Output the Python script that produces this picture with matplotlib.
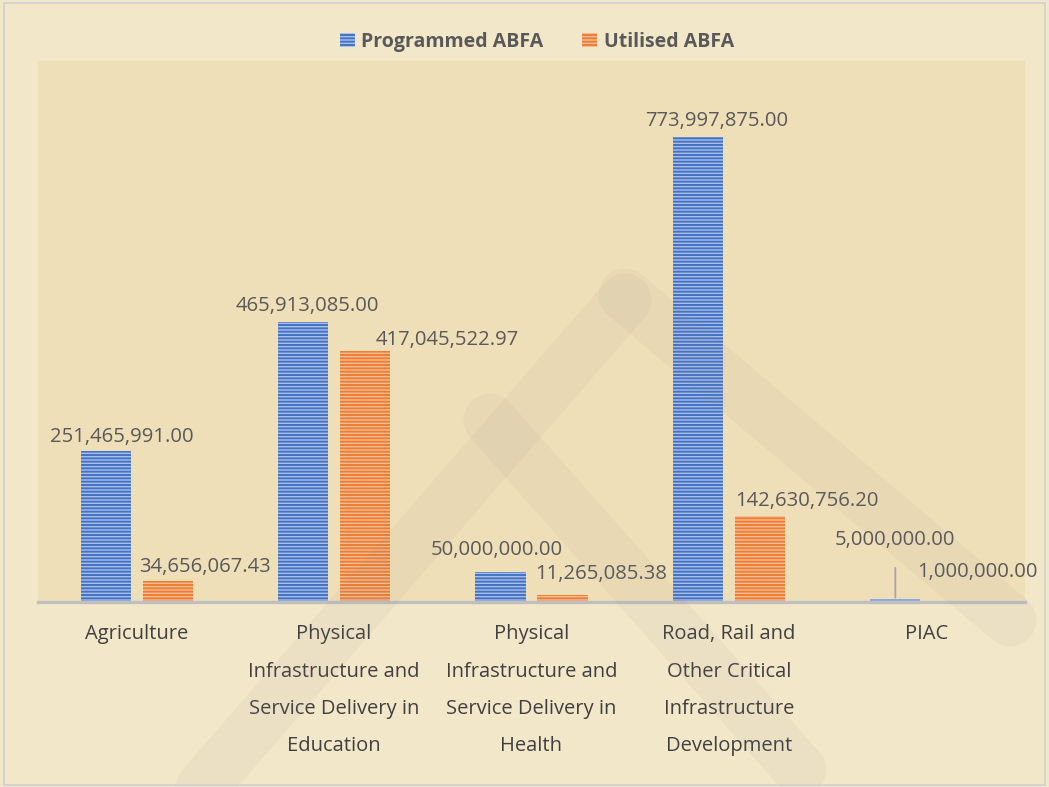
import matplotlib
matplotlib.use("Agg")
import matplotlib.pyplot as plt
import numpy as np
from matplotlib.patches import Rectangle

categories = [
    "Agriculture",
    "Physical\nInfrastructure and\nService Delivery in\nEducation",
    "Physical\nInfrastructure and\nService Delivery in\nHealth",
    "Road, Rail and\nOther Critical\nInfrastructure\nDevelopment",
    "PIAC",
]
programmed = [251465991.00, 465913085.00, 50000000.00, 773997875.00, 5000000.00]
utilised = [34656067.43, 417045522.97, 11265085.38, 142630756.20, 1000000.00]
series_names = ["Programmed ABFA", "Utilised ABFA"]

# label offsets in pixels (dx, dy) relative to the bar top centre
prog_offsets = [(16, 14), (4, 16), (-4, 22), (19, 16), (0, 59)]
util_offsets = [(37, 14), (82, 11), (39, 21), (47, 15), (20, 29)]

plt.rcParams['font.family'] = ['Open Sans', 'DejaVu Sans']
plt.rcParams['hatch.linewidth'] = 1.4

W, H = 1049, 787
fig = plt.figure(figsize=(W / 100, H / 100), dpi=100)
fig.patch.set_facecolor('#F3E7C9')

ax = fig.add_axes([38 / W, 1 - 602 / H, (1025 - 38) / W, (602 - 61) / H])
ax.set_facecolor('#EFDFB8')

# faint watermark bands (decoration)
for (x0, y0, x1, y1) in [(200, 790, 625, 300), (625, 295, 1010, 620), (490, 420, 800, 770)]:
    fig.add_artist(plt.Line2D([x0 / W, x1 / W], [1 - y0 / H, 1 - y1 / H],
                              transform=fig.transFigure, color='#8C8C8C', alpha=0.07,
                              linewidth=38, solid_capstyle='round', zorder=0.5))

x = np.arange(len(categories))
bw = 0.255
off = 0.157
b1 = ax.bar(x - off, programmed, bw, facecolor='#A9BFE8', edgecolor='#4472C4',
            hatch='-----', linewidth=0, label=series_names[0], zorder=2)
b2 = ax.bar(x + off, utilised, bw, facecolor='#F6BE98', edgecolor='#ED7D31',
            hatch='-----', linewidth=0, label=series_names[1], zorder=2)

ax.set_xlim(-0.5, len(categories) - 0.5)
ax.set_ylim(0, 900000000)
ax.set_yticks([])
for s in ['top', 'right', 'left']:
    ax.spines[s].set_visible(False)
ax.spines['bottom'].set_color('#BFBFBF')
ax.spines['bottom'].set_linewidth(2.4)
ax.spines['bottom'].set_zorder(3)

ax.set_xticks(x)
ax.set_xticklabels(categories, fontsize=14.5, color='#404040', linespacing=2.16, va='top')
ax.tick_params(axis='x', length=0, pad=16)

def fmt(v):
    return f"{v:,.2f}"

for i, v in enumerate(programmed):
    dx, dy = prog_offsets[i]
    kw = {}
    if i == 4:
        kw = dict(arrowprops=dict(arrowstyle='-', color='#A6A6A6', lw=1.3,
                                  shrinkA=11, shrinkB=1, relpos=(0.5, 0)))
    ax.annotate(fmt(v), xy=(x[i] - off, v), xytext=(dx, dy), textcoords='offset pixels',
                ha='center', va='center', fontsize=14.6, color='#595959', zorder=4, **kw)
for i, v in enumerate(utilised):
    dx, dy = util_offsets[i]
    ax.annotate(fmt(v), xy=(x[i] + off, v), xytext=(dx, dy), textcoords='offset pixels',
                ha='center', va='center', fontsize=14.6, color='#595959', zorder=4)

leg = fig.legend(handles=[b1, b2], loc='center', bbox_to_anchor=(537 / W, 1 - 42 / H),
                 ncol=2, frameon=False, handlelength=0.75, handleheight=0.75,
                 handletextpad=0.35, columnspacing=2.0,
                 prop={'weight': 'bold', 'size': 14})
for t in leg.get_texts():
    t.set_color('#595959')

fig.add_artist(Rectangle((0.004, 0.003), 0.992, 0.993, transform=fig.transFigure,
                         fill=False, edgecolor='#D0D0D0', linewidth=1.2))

fig.savefig('out.png', dpi=100, facecolor=fig.get_facecolor())
